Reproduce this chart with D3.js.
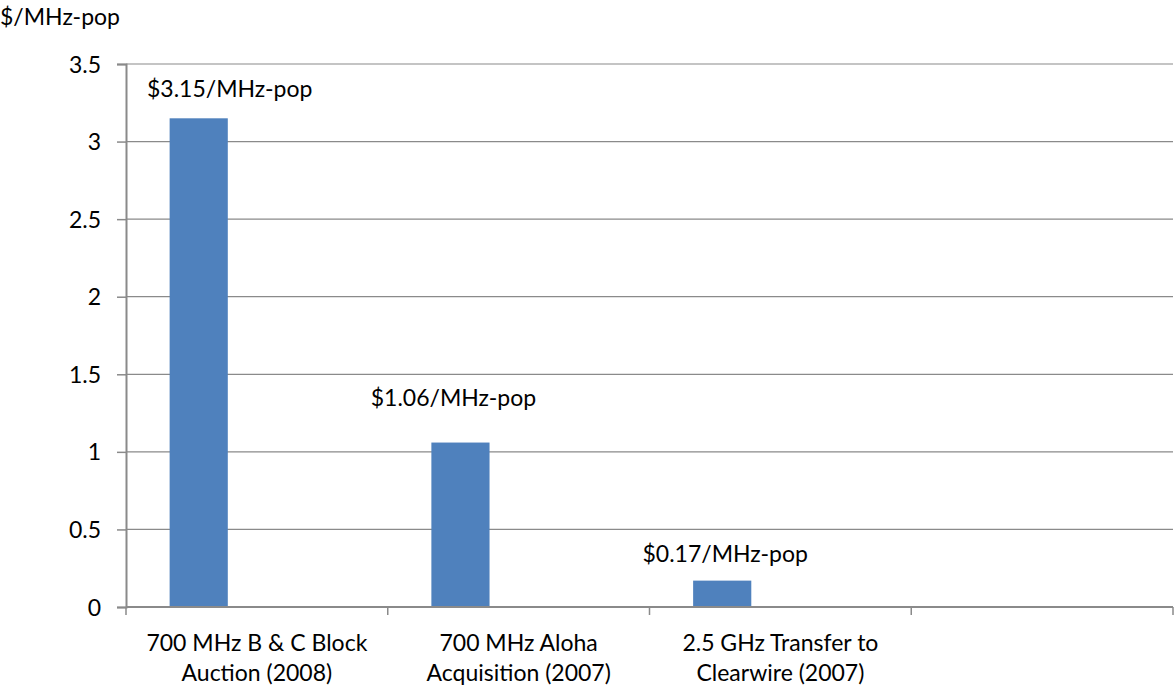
<!DOCTYPE html>
<html>
<head>
<meta charset="utf-8">
<script src="https://cdn.jsdelivr.net/npm/d3@7"></script>
<style>
  body { margin: 0; background: #fff; }
  text { font-family: Lato, "Open Sans", sans-serif; fill: #000; }
</style>
</head>
<body>
<div id="chart"></div>
<script>
// chart data
const categories = [
    ["700 MHz B & C Block", "Auction (2008)"],
    ["700 MHz Aloha", "Acquisition (2007)"],
    ["2.5 GHz Transfer to", "Clearwire (2007)"],
    ["", ""]
];
const values = [3.15, 1.06, 0.17, null];
const valueLabels = ["$3.15/MHz-pop", "$1.06/MHz-pop", "$0.17/MHz-pop", ""];
const yTicks = [0, 0.5, 1, 1.5, 2, 2.5, 3, 3.5];
const yTitle = "$/MHz-pop";

// hand placed label nudges (px) relative to bar center / bar top
const labelNudge = [[31, -21], [-7, -37], [3, -19], [0, 0]];

const width = 1176, height = 694;
const margin = { top: 64, right: 3, bottom: 87, left: 126 };
const fontSize = "23px";

const svg = d3.select("#chart")
    .append("svg")
    .attr("width", width)
    .attr("height", height);

const x = d3.scaleBand()
    .domain(d3.range(categories.length))
    .range([margin.left, width - margin.right]);

// 3 series slots per category, only the first has data (gap width 150%)
const xSeries = d3.scaleBand()
    .domain([0, 1, 2])
    .range([0, x.bandwidth()])
    .paddingOuter(0.75);

const y = d3.scaleLinear()
    .domain([0, 3.5])
    .range([height - margin.bottom, margin.top]);

// gridlines
svg.append("g")
    .selectAll("line")
    .data(yTicks.filter(d => d > 0))
    .enter().append("line")
    .attr("x1", margin.left)
    .attr("x2", width - margin.right)
    .attr("y1", d => y(d))
    .attr("y2", d => y(d))
    .attr("stroke", "#8a8a8a")
    .attr("stroke-width", 1.2);

// y axis
const yAxis = svg.append("g")
    .attr("transform", `translate(${margin.left},0)`)
    .call(d3.axisLeft(y).tickValues(yTicks).tickFormat(d3.format("")).tickSize(9).tickPadding(16));
yAxis.select(".domain").attr("stroke", "#8a8a8a").attr("stroke-width", 2);
yAxis.selectAll(".tick line").attr("stroke", "#8a8a8a").attr("stroke-width", 1.5);
yAxis.selectAll(".tick text").style("font-size", fontSize).attr("dy", "0.35em");

// bars
svg.append("g")
    .selectAll("rect")
    .data(values.map((v, i) => ({ v, i })).filter(d => d.v != null))
    .enter().append("rect")
    .attr("x", d => x(d.i) + xSeries(0))
    .attr("width", xSeries.bandwidth())
    .attr("y", d => y(d.v))
    .attr("height", d => y(0) - y(d.v))
    .attr("fill", "#4f81bd");

// x axis
const baseY = y(0);
svg.append("line")
    .attr("x1", margin.left)
    .attr("x2", width - margin.right)
    .attr("y1", baseY)
    .attr("y2", baseY)
    .attr("stroke", "#8a8a8a")
    .attr("stroke-width", 2);

const edges = d3.range(categories.length + 1).map(i => margin.left + i * x.step());
svg.append("g")
    .selectAll("line")
    .data(edges)
    .enter().append("line")
    .attr("x1", d => d)
    .attr("x2", d => d)
    .attr("y1", baseY)
    .attr("y2", baseY + 8)
    .attr("stroke", "#8a8a8a")
    .attr("stroke-width", 1.5);

const catLabels = svg.append("g")
    .selectAll("text")
    .data(categories)
    .enter().append("text")
    .attr("text-anchor", "middle")
    .style("font-size", fontSize);
catLabels.each(function (lines, i) {
    const t = d3.select(this);
    lines.forEach((line, j) => {
        t.append("tspan")
            .attr("x", x(i) + x.bandwidth() / 2)
            .attr("y", baseY + 44 + j * 30)
            .text(line);
    });
});

// value labels
svg.append("g")
    .selectAll("text")
    .data(values.map((v, i) => ({ v, i })).filter(d => d.v != null))
    .enter().append("text")
    .attr("text-anchor", "middle")
    .attr("x", d => x(d.i) + xSeries(0) + xSeries.bandwidth() / 2 + labelNudge[d.i][0])
    .attr("y", d => y(d.v) + labelNudge[d.i][1])
    .style("font-size", fontSize)
    .text(d => valueLabels[d.i]);

// axis title
svg.append("text")
    .attr("x", 0)
    .attr("y", 25)
    .style("font-size", fontSize)
    .text(yTitle);
</script>
</body>
</html>
